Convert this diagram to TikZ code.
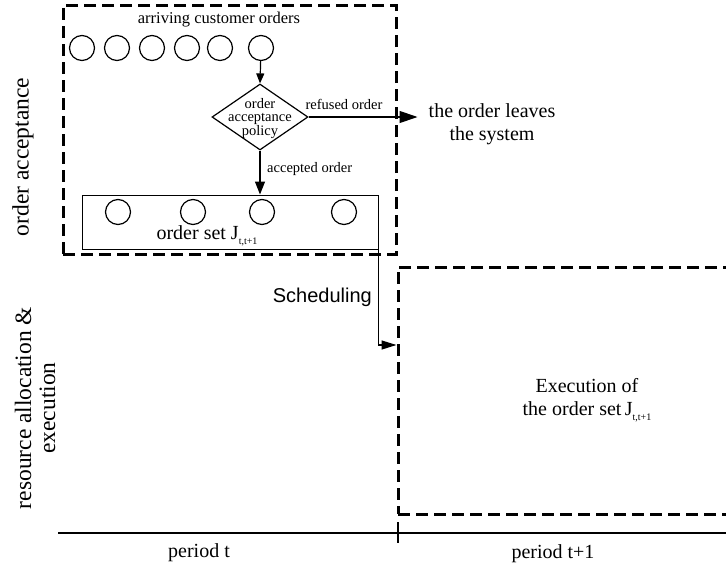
\documentclass[tikz,border=0pt]{standalone}
\usepackage{fontspec}
\setmainfont{Liberation Serif}
\setsansfont{Liberation Sans}
\usetikzlibrary{shapes.geometric,arrows.meta}
% lowered small index, as in J_{t,t+1}
\newcommand\lowidx[1]{\raisebox{-0.5ex}{\fontsize{10}{10}\selectfont #1}}
\begin{document}
\begin{tikzpicture}[x=1pt,y=-1pt,
  order/.style={circle,draw,line width=1.2pt,minimum size=25pt,inner sep=0pt},
  zone/.style={draw,line width=3pt,dash pattern=on 12pt off 6pt,inner sep=0pt},
  flow/.style={line width=1.2pt,-{Triangle[length=10pt,width=8pt]}},
  bigtext/.style={font=\fontsize{20}{23}\selectfont,align=center,inner sep=0pt},
  sidetext/.style={font=\fontsize{23.5}{24}\selectfont,align=center,inner sep=0pt,rotate=90},
  smalltext/.style={font=\fontsize{14.5}{13.5}\selectfont,align=center,inner sep=0pt}]
\clip (0,0) rectangle (726,570);
\useasboundingbox (0,0) rectangle (726,570);

% order acceptance zone
\node[zone,minimum width=333pt,minimum height=249pt] (accept) at (229.5,129.5) {};
% execution zone (runs off to the right)
\node[zone,minimum width=342pt,minimum height=247pt] (exec) at (569,390.5) {};

% arriving orders
\node[font=\fontsize{16.5}{18}\selectfont,inner sep=0pt] (arrlabel) at (219,20) {arriving customer orders};
\foreach \i/\x in {1/82,2/117,3/152,4/187,5/220,6/261}
  \node[order] (c\i) at (\x,48) {};

% decision
\node[diamond,draw,line width=1.2pt,minimum width=96pt,minimum height=66pt,inner sep=0pt] (dia) at (260,117) {};
\node[smalltext] (diatext) at (260,118.5) {order\\acceptance\\policy};
\draw[flow] (c6) -- (dia.north);

% refused orders
\node[bigtext] (leave) at (492,124) {the order leaves\\the system};
\draw[line width=1.2pt,-{Triangle[length=18pt,width=12pt]},shorten >=11pt] (dia.east) -- (dia.east -| leave.west);
\node[smalltext] (reflabel) at (344,104) {refused order};

% accepted orders
\node[draw,line width=1pt,minimum width=296pt,minimum height=54pt,inner sep=0pt] (orderset) at (230,222) {};
\draw[line width=1.2pt,-{Triangle[length=13pt,width=10pt]}] (dia.south) -- (dia.south |- orderset.north);
\node[smalltext,anchor=west] (acclabel) at (267,169) {accepted order};
\foreach \i/\x in {1/118,2/193,3/262,4/344}
  \node[order] (s\i) at (\x,212) {};
\node[bigtext,anchor=base] (setlabel) at (207,239.5) {order set J\lowidx{t,t+1}};

% scheduling connector
\coordinate (turn) at (orderset.south east |- 0,345);
\draw[line width=1.2pt,-{Triangle[length=15pt,width=9pt]}] (orderset.south east) -- (turn) -- (turn -| exec.west);
\node[bigtext,font=\sffamily\fontsize{20}{23}\selectfont,anchor=east] (sched) at (372,297) {Scheduling};

% execution
\node[bigtext] (exectext) at (587,400) {Execution of\\the order set\,J\lowidx{t,t+1}};

% time axis
\coordinate (axstart) at (58,533);
\coordinate (axend) at (726,533);
\coordinate (tickA) at (398,522);
\coordinate (tickB) at (398,543);
\draw[line width=1.5pt] (axstart) -- (axend);
\draw[line width=1.2pt] (tickA) -- (tickB);
\node[bigtext] (pt) at (199,553) {period t};
\node[bigtext] (pt1) at (553,554) {period t+1};

% row labels
\node[sidetext] (rowA) at (23,157) {order acceptance};
\node[sidetext] (rowB) at (35,408) {resource allocation \&\\execution};
\end{tikzpicture}
\end{document}
